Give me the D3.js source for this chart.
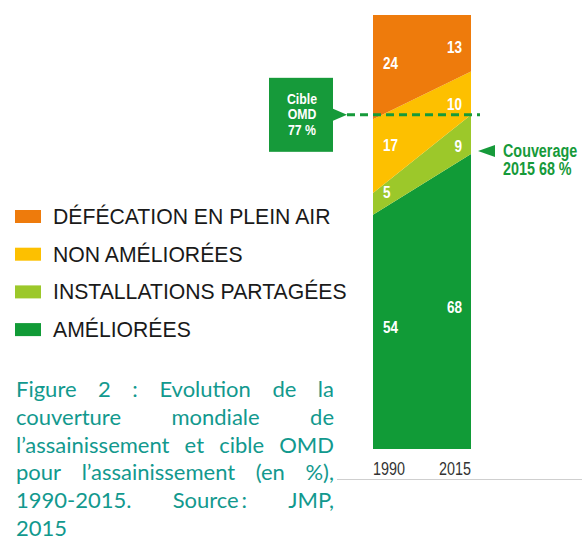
<!DOCTYPE html>
<html>
<head>
<meta charset="utf-8">
<script src="https://cdn.jsdelivr.net/npm/d3@7"></script>
<style>
  body { margin: 0; background: #fff; }
  svg { display: block; }
</style>
</head>
<body>
<div id="chart"></div>
<script>
// DONNEES
const years = [1990, 2015];
const keys = ["ameliorees", "partagees", "nonAmeliorees", "defecation"];
const legendLabels = ["DÉFÉCATION EN PLEIN AIR", "NON AMÉLIORÉES", "INSTALLATIONS PARTAGÉES", "AMÉLIORÉES"];
const ameliorees = [54, 68];
const partagees = [5, 9];
const nonAmeliorees = [17, 10];
const defecation = [24, 13];
const cibleOMD = 77;
const couverage2015 = 68;
const captionLines = [
  "Figure 2 : Evolution de la",
  "couverture mondiale de",
  "l’assainissement et cible OMD",
  "pour l’assainissement (en %),",
  "1990-2015. Source\u2009: JMP,",
  "2015"
];

const width = 587, height = 541;
const narrowFont = "'Liberation Sans', Arial, sans-serif";
const squeeze = 0.82; // pas de police étroite installée -> on compresse

const colors = {
  defecation: "#ee7b0c",
  nonAmeliorees: "#fdc000",
  partagees: "#9cc82a",
  ameliorees: "#119b37"
};
const green = "#169a3a";

const table = years.map((yr, i) => ({
  year: yr,
  ameliorees: ameliorees[i],
  partagees: partagees[i],
  nonAmeliorees: nonAmeliorees[i],
  defecation: defecation[i]
}));

const svg = d3.select("#chart").append("svg")
  .attr("width", width)
  .attr("height", height);

// texte étroit : groupe translaté puis compressé horizontalement
function narrow(parent, x, y, opts) {
  const g = parent.append("g")
    .attr("transform", `translate(${x},${y}) scale(${squeeze},1)`);
  const t = g.append("text")
    .attr("text-anchor", opts.anchor || "start")
    .attr("fill", opts.fill)
    .style("font-family", narrowFont)
    .style("font-weight", opts.weight || "normal")
    .style("font-size", opts.size + "px");
  opts.lines.forEach((l, i) => {
    t.append("tspan").attr("x", 0).attr("y", i * (opts.lineH || 0)).text(l);
  });
  return g;
}

// ECHELLES
const x = d3.scaleLinear().domain([1990, 2015]).range([373, 471]);
const y = d3.scaleLinear().domain([0, 100]).range([449, 15]);

const series = d3.stack().keys(keys)(table);

const area = d3.area()
  .x(d => x(d.data.year))
  .y0(d => y(d[0]))
  .y1(d => y(d[1]));

svg.append("g").selectAll("path")
  .data(series)
  .join("path")
  .attr("fill", d => colors[d.key])
  .attr("d", area);

// ETIQUETTES DES VALEURS
const labelPos = [
  { t: 0.17, x: 383, anchor: "start" },
  { t: 0.83, x: 462, anchor: "end" }
];
const valG = svg.append("g");
series.forEach(s => {
  labelPos.forEach((p, i) => {
    const lo = s[0][0] + (s[1][0] - s[0][0]) * p.t;
    const hi = s[0][1] + (s[1][1] - s[0][1]) * p.t;
    const cy = (y(lo) + y(hi)) / 2;
    narrow(valG, p.x, cy + 6, {
      anchor: p.anchor, fill: "#fff", weight: "bold", size: 16.5,
      lines: [String(s[i][1] - s[i][0])]
    });
  });
});

// AXE X
years.forEach(yr => {
  narrow(svg, x(yr) + (yr === 1990 ? 16 : -16), 475, {
    anchor: "middle", fill: "#333", size: 17.5, lines: [String(yr)]
  });
});

svg.append("line")
  .attr("x1", 337).attr("x2", 582)
  .attr("y1", 479.5).attr("y2", 479.5)
  .attr("stroke", "#cfcfcf")
  .attr("stroke-width", 1);

// CIBLE OMD
const yc = y(cibleOMD);
svg.append("line")
  .attr("x1", 347).attr("x2", 480)
  .attr("y1", yc).attr("y2", yc)
  .attr("stroke", green)
  .attr("stroke-width", 3)
  .attr("stroke-dasharray", "8,5");

svg.append("rect")
  .attr("x", 269).attr("y", yc - 37)
  .attr("width", 64).attr("height", 74)
  .attr("fill", green);
svg.append("path")
  .attr("d", `M333,${yc - 6}L347,${yc}L333,${yc + 6}Z`)
  .attr("fill", green);

narrow(svg, 302, yc - 11, {
  anchor: "middle", fill: "#fff", weight: "bold", size: 15, lineH: 15.5,
  lines: ["Cible", "OMD", cibleOMD + " %"]
});

// COUVERAGE 2015
const yv = y(couverage2015) - 3;
svg.append("path")
  .attr("d", `M478,${yv}L495,${yv - 6}L495,${yv + 6}Z`)
  .attr("fill", green);
narrow(svg, 503, yv + 6.5, {
  anchor: "start", fill: green, weight: "bold", size: 17.5, lineH: 17.5,
  lines: ["Couverage", "2015 " + couverage2015 + " %"]
});

// LEGENDE
const legendKeys = ["defecation", "nonAmeliorees", "partagees", "ameliorees"];
const legend = svg.append("g");
legendKeys.forEach((k, i) => {
  const cy = 216.5 + i * 37.7;
  legend.append("rect")
    .attr("x", 15).attr("y", cy - 6.5)
    .attr("width", 26).attr("height", 13)
    .attr("fill", colors[k]);
  legend.append("text")
    .attr("x", 53).attr("y", cy + 7.5)
    .attr("fill", "#1a1a1a")
    .style("font-family", "'Liberation Sans', Arial, sans-serif")
    .style("font-size", "21.2px")
    .text(legendLabels[i]);
});

// LEGENDE DE LA FIGURE (justifiée)
const capLeft = 16, capRight = 334;
const cap = svg.append("g")
  .attr("fill", "#12998e")
  .style("font-family", "Lato, 'Noto Sans', sans-serif")
  .style("font-size", "22px");

captionLines.forEach((line, li) => {
  const words = line.split(" ");
  const yy = 397 + li * 27.8;
  const nodes = words.map(w => cap.append("text").attr("y", yy).text(w));
  const widths = nodes.map(n => n.node().getComputedTextLength());
  const total = d3.sum(widths);
  const last = li === captionLines.length - 1;
  const gap = (last || words.length < 2) ? 6 : (capRight - capLeft - total) / (words.length - 1);
  let cx = capLeft;
  nodes.forEach((n, i) => {
    n.attr("x", cx);
    cx += widths[i] + gap;
  });
});
</script>
</body>
</html>
